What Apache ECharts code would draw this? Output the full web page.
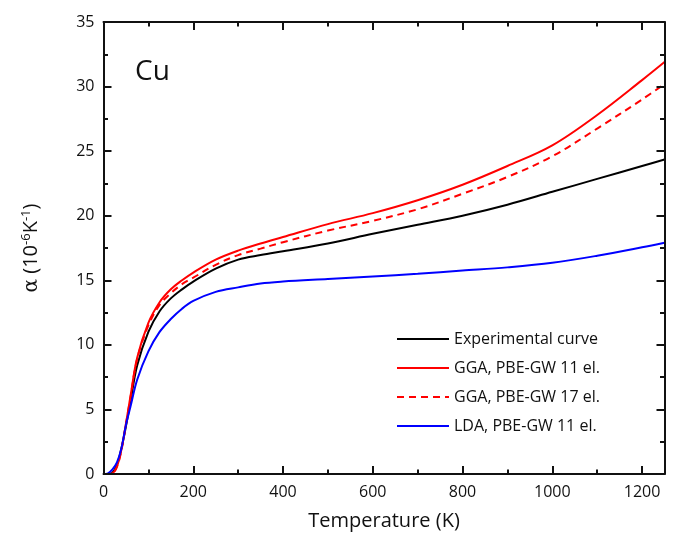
<!DOCTYPE html>
<html>
<head>
<meta charset="utf-8">
<script src="https://cdn.jsdelivr.net/npm/echarts@6/dist/echarts.min.js"></script>
<style>
  html, body { margin: 0; padding: 0; background: #fff; }
  #chart { width: 684px; height: 536px; }
</style>
</head>
<body>
<div id="chart"></div>
<script>
// Temperature grid (K) shared by all curves
const temps = [0, 10, 20, 30, 40, 50, 60, 75, 100, 125, 150, 175, 200, 250, 300, 350, 400, 500, 600, 700, 800, 900, 1000, 1100, 1200, 1250];

// Thermal expansion coefficient, 10^-6 K^-1
const experimental = [0, 0, 0.1, 0.7, 2.0, 3.7, 5.6, 8.4, 11.0, 12.6, 13.6, 14.3, 14.9, 15.9, 16.6, 16.95, 17.25, 17.85, 18.6, 19.3, 20.0, 20.85, 21.85, 22.85, 23.85, 24.35];
const ggaPbe11 = [0, 0, 0.05, 0.6, 1.9, 3.9, 6.0, 9.0, 11.7, 13.3, 14.3, 15.0, 15.6, 16.6, 17.3, 17.85, 18.35, 19.35, 20.2, 21.2, 22.4, 23.85, 25.45, 27.8, 30.5, 31.9];
const ggaPbe17 = [0, 0, 0.05, 0.55, 1.85, 3.85, 5.9, 8.9, 11.5, 13.1, 14.0, 14.7, 15.2, 16.2, 16.95, 17.45, 17.95, 18.85, 19.6, 20.5, 21.7, 23.0, 24.6, 26.75, 29.0, 30.2];
const ldaPbe11 = [0, 0.05, 0.35, 0.9, 2.0, 3.8, 5.2, 7.3, 9.5, 11.0, 12.0, 12.8, 13.4, 14.1, 14.45, 14.75, 14.9, 15.1, 15.3, 15.5, 15.75, 16.0, 16.35, 16.9, 17.55, 17.9];

const seriesNames = ['Experimental curve', 'GGA, PBE-GW 11 el.', 'GGA, PBE-GW 17 el.', 'LDA, PBE-GW 11 el.'];

const FONT = '"Open Sans", "DejaVu Sans", sans-serif';
const INK = '#111';
const pairs = vals => temps.map((t, i) => [t, vals[i]]);

function curve(name, vals, color, dash) {
  return {
    name: name,
    type: 'line',
    data: pairs(vals),
    xAxisIndex: 0,
    yAxisIndex: 0,
    smooth: 0.35,
    symbol: 'none',
    showSymbol: false,
    lineStyle: { color: color, width: 2, type: dash ? [7, 5] : 'solid' },
    itemStyle: { color: color }
  };
}

// One side of the frame: major ticks with the axis line, or minor ticks only; ticks point inward
function frameAxis(kind, position, step, tickLen, withLine, extra) {
  const ax = {
    type: 'value',
    position: position,
    min: 0,
    max: kind === 'x' ? 1250 : 35,
    interval: step,
    z: 10,
    splitLine: { show: false },
    axisLine: { show: withLine, onZero: false, lineStyle: { color: INK, width: 2, opacity: 1 } },
    axisTick: { show: true, inside: true, length: tickLen, lineStyle: { color: INK, width: 2, opacity: 1 } },
    axisLabel: { show: false }
  };
  return Object.assign(ax, extra || {});
}

const chart = echarts.init(document.getElementById('chart'));

chart.setOption({
  animation: false,
  grid: { left: 103.5, right: 19.5, top: 22, bottom: 59 },
  xAxis: [
    frameAxis('x', 'bottom', 200, 8, true, {
      name: 'Temperature (K)',
      nameLocation: 'middle',
      nameGap: 37,
      nameTextStyle: { fontFamily: FONT, fontSize: 20, color: '#111' },
      axisLabel: { show: true, showMaxLabel: false, margin: 10, fontFamily: FONT, fontSize: 16, color: '#111', formatter: v => String(v) }
    }),
    frameAxis('x', 'top', 200, 8, true),
    frameAxis('x', 'bottom', 100, 4.5, false),
    frameAxis('x', 'top', 100, 4.5, false)
  ],
  yAxis: [
    frameAxis('y', 'left', 5, 8, true, {
      name: '{g|α} (10{s|-6}K{s|-1})',
      nameLocation: 'middle',
      nameRotate: 90,
      nameGap: 60,
      nameTextStyle: {
        fontFamily: FONT, fontSize: 20, color: '#111',
        rich: {
          g: { fontFamily: '"DejaVu Serif", serif', fontSize: 20, color: '#111' },
          s: { fontFamily: FONT, fontSize: 13, color: '#111', padding: [0, 0, 11, 0] }
        }
      },
      axisLabel: { show: true, margin: 9, fontFamily: FONT, fontSize: 16, color: '#111' }
    }),
    frameAxis('y', 'right', 5, 8, true),
    frameAxis('y', 'left', 2.5, 4.5, false),
    frameAxis('y', 'right', 2.5, 4.5, false)
  ],
  legend: {
    orient: 'vertical',
    left: 396,
    top: 331,
    padding: 0,
    itemWidth: 52,
    itemHeight: 14,
    itemGap: 13,
    data: seriesNames,
    itemStyle: { opacity: 0 },
    textStyle: { fontFamily: FONT, fontSize: 16, color: '#111' }
  },
  graphic: [{
    type: 'text',
    left: 135,
    top: 58,
    style: { text: 'Cu', fontFamily: FONT, fontSize: 28, fill: '#111' }
  }],
  series: [
    curve(seriesNames[0], experimental, '#000000', false),
    curve(seriesNames[1], ggaPbe11, '#ff0000', false),
    curve(seriesNames[2], ggaPbe17, '#ff0000', true),
    curve(seriesNames[3], ldaPbe11, '#0000ff', false)
  ]
});
</script>
</body>
</html>
